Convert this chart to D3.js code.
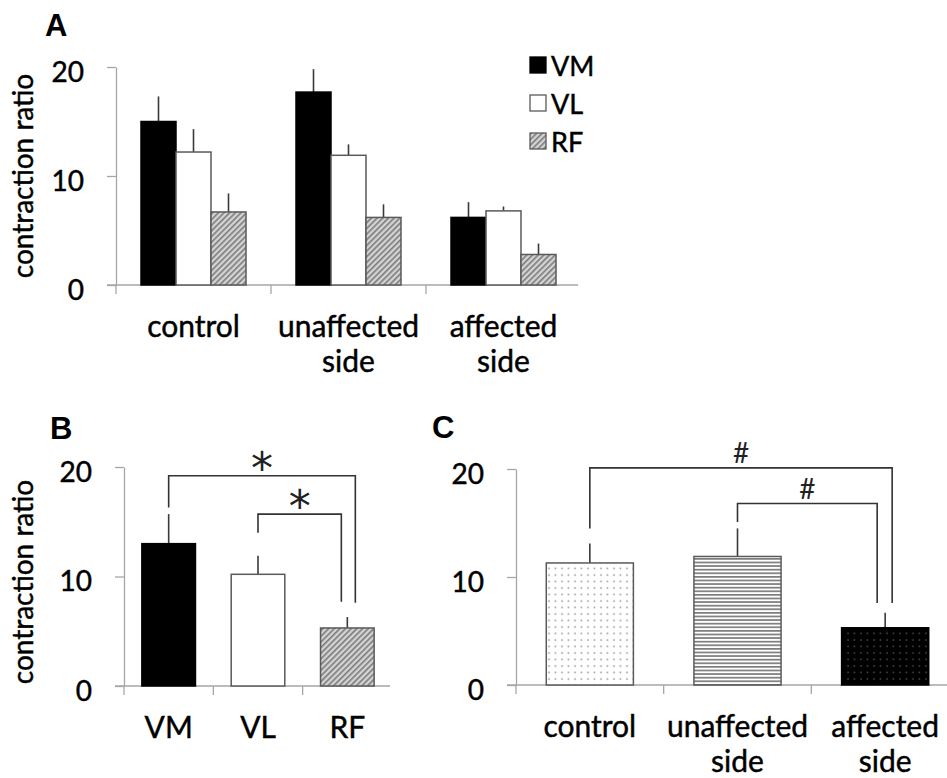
<!DOCTYPE html>
<html>
<head>
<meta charset="utf-8">
<script src="https://cdn.jsdelivr.net/npm/d3@7"></script>
<style>
  body { margin: 0; background: #fff; }
  svg { display: block; font-family: Lato, "Open Sans", sans-serif; }
</style>
</head>
<body>
<svg id="chart"></svg>
<script>
// ---- data ----
const groups = ['control', 'unaffected side', 'affected side'];
const muscles = ['VM', 'VL', 'RF'];

// panel A: mean and SD per muscle, one value per group
const meanVM = [15.0, 17.7, 6.2];
const meanVL = [12.2, 11.9, 6.8];
const meanRF = [6.7, 6.2, 2.8];
const sdVM = [2.3, 2.1, 1.4];
const sdVL = [2.1, 1.0, 0.4];
const sdRF = [1.7, 1.2, 1.0];

// panel B: muscles pooled
const meanB = [13.0, 10.2, 5.3];
const sdB = [2.7, 1.7, 1.0];

// panel C: groups pooled
const meanC = [11.3, 11.9, 5.3];
const sdC = [1.8, 2.6, 1.4];

// significance brackets (values in y units)
const bracketsB = [
  { from: 'VM', to: 'RF', top: 19.2, left: 16.3, right: 7.6, shift: 8, mark: '*' },
  { from: 'VL', to: 'RF', top: 15.7, left: 14.0, right: 7.7, shift: -6, mark: '*' }
];
const bracketsC = [
  { from: 'control', to: 'affected side', top: 20.1, left: 14.5, right: 7.6, shift: 7, mark: '#' },
  { from: 'unaffected side', to: 'affected side', top: 16.8, left: 15.1, right: 7.6, shift: -8, mark: '#' }
];

const yTicks = [0, 10, 20];

const width = 947, height = 778;
const axisColor = '#a6a6a6';
const ink = '#000';
const svg = d3.select('#chart').attr('width', width).attr('height', height)
  .attr('viewBox', [0, 0, width, height]);

// ---- patterns ----
const defs = svg.append('defs');
const hatch = defs.append('pattern').attr('id', 'hatch')
  .attr('patternUnits', 'userSpaceOnUse').attr('width', 4).attr('height', 4)
  .attr('patternTransform', 'rotate(45)');
hatch.append('rect').attr('width', 4).attr('height', 4).attr('fill', '#d4d4d4');
hatch.append('rect').attr('width', 1.6).attr('height', 4).attr('fill', '#7a7a7a');

const dotsLight = defs.append('pattern').attr('id', 'dotsLight')
  .attr('patternUnits', 'userSpaceOnUse').attr('width', 6.5).attr('height', 6.5);
dotsLight.append('rect').attr('width', 6.5).attr('height', 6.5).attr('fill', '#fff');
dotsLight.append('circle').attr('cx', 3).attr('cy', 3).attr('r', 0.9).attr('fill', '#9a9a9a');

const stripes = defs.append('pattern').attr('id', 'stripes')
  .attr('patternUnits', 'userSpaceOnUse').attr('width', 8).attr('height', 3.6);
stripes.append('rect').attr('width', 8).attr('height', 3.6).attr('fill', '#fff');
stripes.append('rect').attr('y', 0).attr('width', 8).attr('height', 1.7).attr('fill', '#7c7c7c');

const dotsDark = defs.append('pattern').attr('id', 'dotsDark')
  .attr('patternUnits', 'userSpaceOnUse').attr('width', 6.5).attr('height', 6.5);
dotsDark.append('rect').attr('width', 6.5).attr('height', 6.5).attr('fill', '#000');
dotsDark.append('circle').attr('cx', 3).attr('cy', 3).attr('r', 0.8).attr('fill', '#555');

const muscleFill = { VM: '#000', VL: '#fff', RF: 'url(#hatch)' };
const muscleStroke = { VM: '#000', VL: '#5a5a5a', RF: '#5a5a5a' };
const groupFill = { 'control': 'url(#dotsLight)', 'unaffected side': 'url(#stripes)', 'affected side': 'url(#dotsDark)' };
const groupStroke = { 'control': '#5a5a5a', 'unaffected side': '#5a5a5a', 'affected side': '#000' };

// heavier text, closer to the original's look
const heavy = s => s.attr('fill', ink).attr('stroke', ink).attr('stroke-width', 0.45);

// ---- shared axis helpers ----
function drawYAxis(g, y, x0) {
  g.append('g')
    .attr('transform', `translate(${x0},0)`)
    .call(d3.axisLeft(y).tickValues(yTicks).tickSize(9).tickSizeOuter(0).tickPadding(23))
    .call(a => a.select('.domain').attr('stroke', axisColor).attr('stroke-width', 1.3))
    .call(a => a.selectAll('.tick line').attr('stroke', axisColor).attr('stroke-width', 1.3))
    .call(a => a.selectAll('.tick text').attr('font-size', 28)
      .attr('font-family', 'Lato, sans-serif').attr('dy', '0.5em').call(heavy));
}

function drawXAxis(g, x, y, xEnd) {
  const gx = g.append('g').attr('transform', `translate(0,${y(0)})`);
  gx.append('line').attr('x1', x.range()[0] - 9).attr('x2', xEnd)
    .attr('stroke', axisColor).attr('stroke-width', 1.3);
  const pad = (x.step() - x.bandwidth()) / 2;
  gx.selectAll('line.tk').data(x.domain()).join('line').attr('class', 'tk')
    .attr('x1', d => x(d) - pad).attr('x2', d => x(d) - pad)
    .attr('y1', 0).attr('y2', 9)
    .attr('stroke', axisColor).attr('stroke-width', 1.3);
  const lab = gx.selectAll('text.lab').data(x.domain()).join('text').attr('class', 'lab')
    .attr('x', d => x(d) + x.bandwidth() / 2)
    .attr('y', 52)
    .attr('text-anchor', 'middle').attr('font-size', 30).call(heavy);
  lab.selectAll('tspan').data(d => d.split(' ')).join('tspan')
    .attr('x', function () { return this.parentNode.getAttribute('x'); })
    .attr('dy', (d, i) => i ? 35 : 0)
    .text(d => d);
}

function yLabel(g, cx, cy) {
  g.append('text').attr('transform', `translate(${cx},${cy}) rotate(-90)`)
    .attr('text-anchor', 'middle').attr('font-size', 28).call(heavy)
    .text('contraction ratio');
}

function panelLetter(t, x, y) {
  svg.append('text').attr('x', x).attr('y', y)
    .attr('font-family', '"Liberation Sans", Arial, sans-serif')
    .attr('font-weight', 'bold').attr('font-size', 31).attr('fill', '#000').text(t);
}

function errorBars(g, data, xc, y) {
  g.append('g').attr('stroke', '#3a3a3a').attr('stroke-width', 1.6)
    .selectAll('line').data(data).join('line')
    .attr('x1', xc).attr('x2', xc)
    .attr('y1', d => y(d.mean)).attr('y2', d => y(d.mean + d.sd));
}

function brackets(g, list, x, y) {
  const c = d => x(d) + x.bandwidth() / 2;
  const bg = g.append('g');
  bg.selectAll('path').data(list).join('path')
    .attr('fill', 'none').attr('stroke', '#333').attr('stroke-width', 1.6)
    .attr('d', d => `M${c(d.from)},${y(d.left)}V${y(d.top)}H${c(d.to) + d.shift}V${y(d.right)}`);
  bg.selectAll('text').data(list).join('text')
    .attr('x', d => (c(d.from) + c(d.to) + d.shift) / 2)
    .attr('y', d => d.mark === '*' ? y(d.top) + 8 : y(d.top) - 5)
    .attr('text-anchor', 'middle')
    .attr('font-family', d => d.mark === '*' ? '"DejaVu Sans", sans-serif' : 'Lato, sans-serif')
    .attr('font-size', d => d.mark === '*' ? 44 : 28)
    .attr('fill', '#222')
    .text(d => d.mark);
}

// ================= Panel A =================
{
  const g = svg.append('g');
  const y = d3.scaleLinear().domain([0, 20]).range([285, 67]);
  const x0 = d3.scaleBand().domain(groups).range([116, 581]).padding(0);
  const x1 = d3.scaleBand().domain(muscles).range([25, x0.bandwidth() - 25]).padding(0);
  const means = { VM: meanVM, VL: meanVL, RF: meanRF };
  const sds = { VM: sdVM, VL: sdVL, RF: sdRF };
  const rows = [];
  groups.forEach((grp, i) => muscles.forEach(m => rows.push({ grp, m, mean: means[m][i], sd: sds[m][i] })));

  drawXAxis(g, x0, y, 578);
  drawYAxis(g, y, 116);

  errorBars(g, rows, d => x0(d.grp) + x1(d.m) + x1.bandwidth() / 2, y);
  g.append('g').selectAll('rect').data(rows).join('rect')
    .attr('x', d => x0(d.grp) + x1(d.m))
    .attr('y', d => y(d.mean))
    .attr('width', x1.bandwidth())
    .attr('height', d => y(0) - y(d.mean))
    .attr('fill', d => muscleFill[d.m])
    .attr('stroke', d => muscleStroke[d.m]).attr('stroke-width', 1.5);

  yLabel(g, 33, 176);
  panelLetter('A', 45, 36);

  // legend
  const lg = g.append('g').attr('transform', 'translate(530,57)');
  const item = lg.selectAll('g').data(muscles).join('g')
    .attr('transform', (d, i) => `translate(0,${i * 38})`);
  item.append('rect').attr('width', 16).attr('height', 16)
    .attr('fill', d => muscleFill[d]).attr('stroke', d => muscleStroke[d]).attr('stroke-width', 1.3);
  item.append('text').attr('x', 21).attr('y', 9).attr('dy', '0.36em')
    .attr('font-size', 27).call(heavy).text(d => d);
}

// ================= Panel B =================
{
  const g = svg.append('g');
  const y = d3.scaleLinear().domain([0, 20]).range([686, 467]);
  const x = d3.scaleBand().domain(muscles).range([124, 392]).paddingInner(0.4).paddingOuter(0.2);
  const rows = muscles.map((m, i) => ({ m, mean: meanB[i], sd: sdB[i] }));

  drawXAxis(g, x, y, 390);
  drawYAxis(g, y, 124);
  errorBars(g, rows, d => x(d.m) + x.bandwidth() / 2, y);
  g.append('g').selectAll('rect').data(rows).join('rect')
    .attr('x', d => x(d.m)).attr('y', d => y(d.mean))
    .attr('width', x.bandwidth()).attr('height', d => y(0) - y(d.mean))
    .attr('fill', d => muscleFill[d.m])
    .attr('stroke', d => muscleStroke[d.m]).attr('stroke-width', 1.5);
  brackets(g, bracketsB, x, y);
  yLabel(g, 33, 582);
  panelLetter('B', 50, 439);
}

// ================= Panel C =================
{
  const g = svg.append('g');
  const y = d3.scaleLinear().domain([0, 20]).range([685, 469]);
  const x = d3.scaleBand().domain(groups).range([516, 959]).paddingInner(0.41).paddingOuter(0.205);
  const rows = groups.map((grp, i) => ({ grp, mean: meanC[i], sd: sdC[i] }));

  drawXAxis(g, x, y, 960);
  drawYAxis(g, y, 516);
  errorBars(g, rows, d => x(d.grp) + x.bandwidth() / 2, y);
  g.append('g').selectAll('rect').data(rows).join('rect')
    .attr('x', d => x(d.grp)).attr('y', d => y(d.mean))
    .attr('width', x.bandwidth()).attr('height', d => y(0) - y(d.mean))
    .attr('fill', d => groupFill[d.grp])
    .attr('stroke', d => groupStroke[d.grp]).attr('stroke-width', 1.5);
  brackets(g, bracketsC, x, y);
  panelLetter('C', 432, 438);
}
</script>
</body>
</html>
